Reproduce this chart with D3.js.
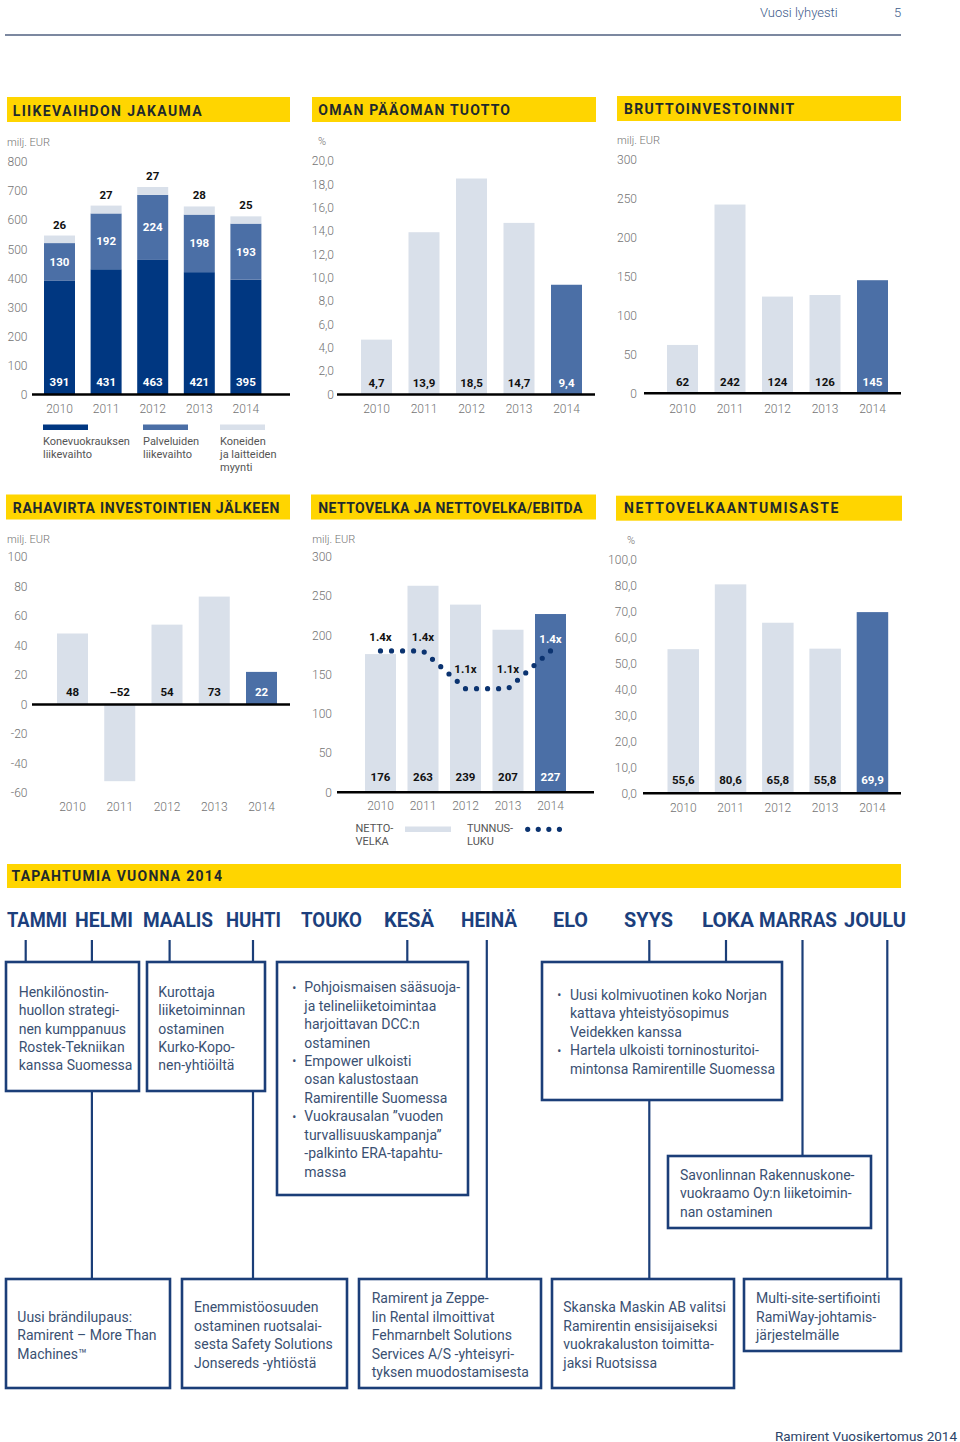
<!DOCTYPE html>
<html><head><meta charset="utf-8">
<script src="https://cdn.jsdelivr.net/npm/d3@7/dist/d3.min.js"></script>
<style>
html,body{margin:0;padding:0;background:#fff;}
svg{display:block;}
text{font-family:Roboto,"Noto Sans",sans-serif;}
</style></head><body>
<svg id="page" width="960" height="1442"></svg>
<script>
// ---------------- DATA ----------------
const years = ["2010","2011","2012","2013","2014"];

const rentalRevenue  = [391, 431, 463, 421, 395];
const serviceRevenue = [130, 192, 224, 198, 193];
const salesRevenue   = [26, 27, 27, 28, 25];
const revenueTicks   = [0,100,200,300,400,500,600,700,800];
const revenueLegend  = [["Konevuokrauksen","liikevaihto"],["Palveluiden","liikevaihto"],["Koneiden","ja laitteiden","myynti"]];

const roe      = [4.7, 13.9, 18.5, 14.7, 9.4];
const roeTicks = [0,2,4,6,8,10,12,14,16,18,20];

const grossCapex = [62, 242, 124, 126, 145];
const capexTicks = [0,50,100,150,200,250,300];

const cashFlow  = [48, -52, 54, 73, 22];
const cashTicks = [-60,-40,-20,0,20,40,60,80,100];

const netDebt      = [176, 263, 239, 207, 227];
const debtToEbitda = [1.4, 1.4, 1.1, 1.1, 1.4];
const debtTicks    = [0,50,100,150,200,250,300];
const debtLegend   = [["NETTO-","VELKA"],["TUNNUS-","LUKU"]];

const gearing           = [55.6, 80.6, 65.8, 55.8, 69.9];
const gearingTicks      = [0,10,20,30,40,50,60,70,80,90];
const gearingTickLabels = ["0,0","10,0","20,0","30,0","40,0","50,0","60,0","70,0","80,0","100,0"];

const months = ["TAMMI","HELMI","MAALIS","HUHTI","TOUKO","KESÄ","HEINÄ","ELO","SYYS","LOKA","MARRAS","JOULU"];
const events = [
  {id:"b1", lines:["Henkilönostin-","huollon strategi-","nen kumppanuus","Rostek-Tekniikan","kanssa Suomessa"]},
  {id:"b2", lines:["Kurottaja","liiketoiminnan","ostaminen","Kurko-Kopo-","nen-yhtiöiltä"]},
  {id:"b3", lines:["•Pohjoismaisen sääsuoja-","ja telineliiketoimintaa","harjoittavan DCC:n","ostaminen","•Empower ulkoisti","osan kalustostaan","Ramirentille Suomessa","•Vuokrausalan ”vuoden","turvallisuuskampanja”","-palkinto ERA-tapahtu-","massa"]},
  {id:"b4", lines:["•Uusi kolmivuotinen koko Norjan","kattava yhteistyösopimus","Veidekken kanssa","•Hartela ulkoisti torninosturitoi-","mintonsa Ramirentille Suomessa"]},
  {id:"b5", lines:["Savonlinnan Rakennuskone-","vuokraamo Oy:n liiketoimin-","nan ostaminen"]},
  {id:"bb1", lines:["Uusi brändilupaus:","Ramirent – More Than","Machines™"]},
  {id:"bb2", lines:["Enemmistöosuuden","ostaminen ruotsalai-","sesta Safety Solutions","Jonsereds -yhtiöstä"]},
  {id:"bb3", lines:["Ramirent ja Zeppe-","lin Rental ilmoittivat","Fehmarnbelt Solutions","Services A/S -yhteisyri-","tyksen muodostamisesta"]},
  {id:"bb4", lines:["Skanska Maskin AB valitsi","Ramirentin ensisijaiseksi","vuokrakaluston toimitta-","jaksi Ruotsissa"]},
  {id:"bb5", lines:["Multi-site-sertifiointi","RamiWay-johtamis-","järjestelmälle"]}
];
const monthLinks = {TAMMI:"b1", HELMI:"bb1", MAALIS:"b2", HUHTI:"bb2", "KESÄ":"b3", "HEINÄ":"bb3", SYYS:"bb4", LOKA:"b4", MARRAS:"b5", JOULU:"bb5"};

// ---------------- LAYOUT ----------------
const monthLayout = {
  TAMMI:{x:7,w:60,line:25.7}, HELMI:{x:75,w:58,line:91.9}, MAALIS:{x:143,w:70,line:169.6},
  HUHTI:{x:226,w:55,line:253}, TOUKO:{x:301,w:61}, "KESÄ":{x:384,w:50,line:407.3},
  "HEINÄ":{x:461,w:56,line:486.8}, ELO:{x:553,w:35}, SYYS:{x:624,w:49,line:649.3},
  LOKA:{x:702,w:52,line:726}, MARRAS:{x:759,w:78,line:802.5}, JOULU:{x:844,w:62,line:887.3}
};
const boxLayout = {
  b1:{x:6,y:962,w:133,h:129,tx:18.7,ty:991.7},
  b2:{x:147,y:962,w:118,h:129,tx:158.3,ty:991.7},
  b3:{x:277,y:962,w:191,h:233,tx:304.3,bx:292.3,ty:987.3},
  b4:{x:542,y:962,w:240,h:138,tx:570,bx:557.3,ty:995},
  b5:{x:668,y:1156,w:203,h:72,tx:680,ty:1175},
  bb1:{x:6,y:1279,w:164,h:109,tx:17.3,ty:1316.7},
  bb2:{x:182,y:1279,w:165,h:109,tx:194,ty:1307.3},
  bb3:{x:359,y:1279,w:182,h:109,tx:371.7,ty:1298.3},
  bb4:{x:552,y:1279,w:182,h:109,tx:563.3,ty:1307.3},
  bb5:{x:744,y:1279,w:157,h:72,tx:756,ty:1298.3}
};
const ratioLabelOffset = [-14,-14,-20,-20,-12];

const COL = {yellow:"#FFD500", dark:"#003781", mid:"#4b6fa6", light:"#d9e0ea", navy:"#1b3e78",
  dot:"#0b3370", tick:"#737373", label:"#111", titleText:"#1f2a2c", boxText:"#3a5072"};

const svg = d3.select("#page");
const locHy = d3.formatLocale({decimal:",",thousands:" ",grouping:[3],currency:["",""],minus:"-"});
const locEn = d3.formatLocale({decimal:",",thousands:" ",grouping:[3],currency:["",""],minus:"–"});
const fmtTick = locHy.format("d");
const fmtDec = locHy.format(".1f");
const fmtDecTick = d => d === 0 ? "0" : fmtDec(d);
const fmtVal = locEn.format("d");

// ---------------- HELPERS ----------------
function band(left, step, width){
  const gap = step - width;
  return d3.scaleBand().domain(years)
    .range([left - gap/2, left - gap/2 + years.length*step])
    .paddingInner(gap/step).paddingOuter(gap/(2*step));
}
function titleBox(x,y,w,h,text,tx,ty,tw){
  svg.append("rect").attr("x",x).attr("y",y).attr("width",w).attr("height",h).attr("fill",COL.yellow);
  svg.append("text").attr("x",tx).attr("y",ty).attr("textLength",tw).attr("lengthAdjust","spacing")
    .attr("font-size",14).attr("font-weight",700).attr("fill",COL.titleText).text(text);
}
function unit(text,x,y){
  svg.append("text").attr("x",x).attr("y",y).attr("font-size",11).attr("font-weight",300).attr("fill",COL.tick).text(text);
}
function yAxis(y, ticks, fmt, xRight){
  const g = svg.append("g").attr("transform",`translate(${xRight},0)`)
    .call(d3.axisLeft(y).tickValues(ticks).tickFormat(fmt).tickSize(0).tickPadding(0));
  g.select(".domain").remove();
  g.attr("font-family",null).attr("font-size",12).attr("font-weight",300);
  g.selectAll("text").attr("fill",COL.tick);
}
function xAxis(x, yCenter){
  const g = svg.append("g").attr("transform",`translate(0,${yCenter-4.3})`)
    .call(d3.axisBottom(x).tickSize(0).tickPadding(0));
  g.select(".domain").remove();
  g.attr("font-family",null).attr("font-size",12).attr("font-weight",300);
  g.selectAll("text").attr("fill",COL.tick);
}
function baseline(x0,x1,y){
  svg.append("line").attr("x1",x0).attr("x2",x1).attr("y1",y).attr("y2",y)
    .attr("stroke","#000").attr("stroke-width",2.5);
}
function valueLabels(x, vals, yFn, fmt, colorFn){
  svg.append("g").selectAll("text").data(vals).join("text")
    .attr("x",(d,i)=>x(years[i])+x.bandwidth()/2).attr("y",(d,i)=>yFn(d,i)).attr("dy","0.35em")
    .attr("text-anchor","middle").attr("font-size",11.5).attr("font-weight",700)
    .attr("fill",(d,i)=>colorFn(i)).text(d=>fmt(d));
}
function simpleBars(x, y, vals){
  svg.append("g").selectAll("rect").data(vals).join("rect")
    .attr("x",(d,i)=>x(years[i])).attr("width",x.bandwidth())
    .attr("y",d=>y(Math.max(0,d))).attr("height",d=>Math.abs(y(d)-y(0)))
    .attr("fill",(d,i)=>i===years.length-1?COL.mid:COL.light);
}
const lastWhite = i => i===years.length-1 ? "#fff" : COL.label;

// ---------------- HEADER ----------------
svg.append("text").attr("x",760).attr("y",16.5).attr("font-size",13).attr("font-weight",300).attr("fill","#3c5a8a").text("Vuosi lyhyesti");
svg.append("text").attr("x",894).attr("y",16.5).attr("font-size",13).attr("font-weight",300).attr("fill","#3c5a8a").text("5");
svg.append("line").attr("x1",5).attr("x2",901).attr("y1",35).attr("y2",35).attr("stroke","#7c88a0").attr("stroke-width",2);

// ---------------- CHART 1 ----------------
{
  titleBox(7,97,283,25,"LIIKEVAIHDON JAKAUMA",12.7,115.5,189);
  unit("milj. EUR",7,145.5);
  const x = band(44, 46.6, 31);
  const y = d3.scaleLinear().domain([0,800]).range([394.5,162]);
  yAxis(y, revenueTicks, fmtTick, 27.5);
  const table = years.map((yr,i)=>({year:yr, rental:rentalRevenue[i], service:serviceRevenue[i], sales:salesRevenue[i]}));
  const series = d3.stack().keys(["rental","service","sales"])(table);
  const colors = [COL.dark, COL.mid, COL.light];
  svg.append("g").selectAll("g").data(series).join("g").attr("fill",(d,i)=>colors[i])
    .selectAll("rect").data(d=>d).join("rect")
    .attr("x",d=>x(d.data.year)).attr("width",x.bandwidth())
    .attr("y",d=>y(d[1])).attr("height",d=>y(d[0])-y(d[1]));
  baseline(32,290,y(0));
  xAxis(x, 409);
  valueLabels(x, rentalRevenue, ()=>382, fmtVal, ()=>"#fff");
  valueLabels(x, serviceRevenue, (d,i)=>(y(series[1][i][0])+y(series[1][i][1]))/2, fmtVal, ()=>"#fff");
  valueLabels(x, salesRevenue, (d,i)=>y(series[2][i][1])-11, fmtVal, ()=>COL.label);
  const lx = [43,143,220];
  revenueLegend.forEach((lines,k)=>{
    svg.append("rect").attr("x",lx[k]).attr("y",424.5).attr("width",45).attr("height",5.5).attr("fill",colors[k]);
    lines.forEach((t,j)=>svg.append("text").attr("x",lx[k]).attr("y",441+j*13.2).attr("dy","0.35em")
      .attr("font-size",11).attr("fill","#555").text(t));
  });
}

// ---------------- CHART 2 ----------------
{
  titleBox(312,97,284,25,"OMAN PÄÄOMAN TUOTTO",318.3,115,191.7);
  unit("%",318,145);
  const x = band(361, 47.5, 31);
  const y = d3.scaleLinear().domain([0,20]).range([394.5,161]);
  yAxis(y, roeTicks, fmtDecTick, 334);
  simpleBars(x,y,roe);
  baseline(337,595,y(0));
  xAxis(x, 409);
  valueLabels(x, roe, ()=>382.5, fmtDec, lastWhite);
}

// ---------------- CHART 3 ----------------
{
  titleBox(617,96,284,25,"BRUTTOINVESTOINNIT",624,113.5,170.3);
  unit("milj. EUR",617,144);
  const x = band(667, 47.5, 31);
  const y = d3.scaleLinear().domain([0,300]).range([393.3,159.3]);
  yAxis(y, capexTicks, fmtTick, 637);
  simpleBars(x,y,grossCapex);
  baseline(644,901,y(0));
  xAxis(x, 408.3);
  valueLabels(x, grossCapex, ()=>382.3, fmtVal, lastWhite);
}

// ---------------- CHART 4 ----------------
{
  titleBox(6,494.5,284,25,"RAHAVIRTA INVESTOINTIEN JÄLKEEN",12.7,512.7,266.7);
  unit("milj. EUR",7,542.7);
  const x = band(57, 47.25, 31);
  const y = d3.scaleLinear().domain([-60,100]).range([793,556.7]);
  yAxis(y, cashTicks, fmtTick, 27.5);
  simpleBars(x,y,cashFlow);
  baseline(32,290,y(0));
  xAxis(x, 806.7);
  valueLabels(x, cashFlow, ()=>691.5, fmtVal, lastWhite);
}

// ---------------- CHART 5 ----------------
{
  titleBox(311,494.5,285,25,"NETTOVELKA JA NETTOVELKA/EBITDA",318.3,513,264);
  unit("milj. EUR",312.3,543);
  const x = band(365, 42.5, 31);
  const y = d3.scaleLinear().domain([0,300]).range([792.3,556.7]);
  yAxis(y, debtTicks, fmtTick, 332);
  simpleBars(x,y,netDebt);
  baseline(337,594,y(0));
  xAxis(x, 806);
  valueLabels(x, netDebt, ()=>777.3, fmtVal, lastWhite);
  // ratio on a secondary scale
  const y2 = d3.scaleLinear().domain([1.1,1.4]).range([y(132), y(180)]);
  const line = d3.line().x((d,i)=>x(years[i])+x.bandwidth()/2).y(d=>y2(d));
  const p = svg.append("path").datum(debtToEbitda).attr("d",line).attr("fill","none")
    .attr("stroke",COL.dot).attr("stroke-width",5.2).attr("stroke-linecap","round");
  const L = p.node().getTotalLength();
  p.attr("stroke-dasharray",`0 ${L/18}`);
  valueLabels(x, debtToEbitda, (d,i)=>y2(d)+ratioLabelOffset[i], d=>d.toFixed(1)+"x", lastWhite);
  // legend
  debtLegend[0].forEach((t,j)=>svg.append("text").attr("x",355.5).attr("y",828+j*13).attr("dy","0.35em")
    .attr("font-size",11).attr("fill","#555").text(t));
  svg.append("rect").attr("x",405).attr("y",826.5).attr("width",46).attr("height",5.5).attr("fill",COL.light);
  debtLegend[1].forEach((t,j)=>svg.append("text").attr("x",467).attr("y",828+j*13).attr("dy","0.35em")
    .attr("font-size",11).attr("fill","#555").text(t));
  svg.append("line").attr("x1",527.7).attr("x2",570).attr("y1",829.3).attr("y2",829.3)
    .attr("stroke",COL.dot).attr("stroke-width",5.2).attr("stroke-linecap","round")
    .attr("stroke-dasharray",`0 ${(570-527.7)/4}`);
}

// ---------------- CHART 6 ----------------
{
  titleBox(616,495.7,286,25,"NETTOVELKAANTUMISASTE",624,513.3,214.3);
  unit("%",627,544);
  const x = band(667.5, 47.3, 31.5);
  const y = d3.scaleLinear().domain([0,90]).range([793.3,560]);
  yAxis(y, gearingTicks, (d,i)=>gearingTickLabels[i], 637);
  simpleBars(x,y,gearing);
  baseline(643,901,y(0));
  xAxis(x, 808);
  valueLabels(x, gearing, ()=>780, fmtDec, lastWhite);
}

// ---------------- TIMELINE ----------------
titleBox(7,864,894,24,"TAPAHTUMIA VUONNA 2014",11.5,881,210.5);

svg.append("g").selectAll("text").data(months).join("text")
  .attr("x",m=>monthLayout[m].x).attr("y",926.5)
  .attr("textLength",m=>monthLayout[m].w).attr("lengthAdjust","spacingAndGlyphs")
  .attr("font-size",21).attr("font-weight",700).attr("fill","#1c3f7d").text(m=>m);

svg.append("g").selectAll("line").data(Object.keys(monthLinks)).join("line")
  .attr("x1",m=>monthLayout[m].line).attr("x2",m=>monthLayout[m].line)
  .attr("y1",940).attr("y2",m=>boxLayout[monthLinks[m]].y)
  .attr("stroke",COL.navy).attr("stroke-width",2.2);

const boxes = svg.append("g").selectAll("g").data(events).join("g");
boxes.append("rect")
  .attr("x",e=>boxLayout[e.id].x).attr("y",e=>boxLayout[e.id].y)
  .attr("width",e=>boxLayout[e.id].w).attr("height",e=>boxLayout[e.id].h)
  .attr("fill","#fff").attr("stroke",COL.navy).attr("stroke-width",2.6);
boxes.each(function(e){
  const b = boxLayout[e.id];
  const g = d3.select(this);
  e.lines.forEach((t,j)=>{
    const bullet = t.startsWith("•");
    const yy = b.ty + j*18.45;
    if(bullet){
      g.append("text").attr("x",b.bx).attr("y",yy).attr("dy","0.35em").attr("font-size",12)
        .attr("fill",COL.boxText).text("•");
    }
    g.append("text").attr("x",b.tx).attr("y",yy).attr("dy","0.35em").attr("font-size",14).attr("font-weight",400)
      .attr("fill",COL.boxText).text(bullet ? t.slice(1) : t);
  });
});

// ---------------- FOOTER ----------------
svg.append("text").attr("x",957).attr("y",1440.5).attr("text-anchor","end").attr("font-size",13.5).attr("font-weight",400)
  .attr("fill","#2c4468").text("Ramirent Vuosikertomus 2014");
</script>
</body></html>
